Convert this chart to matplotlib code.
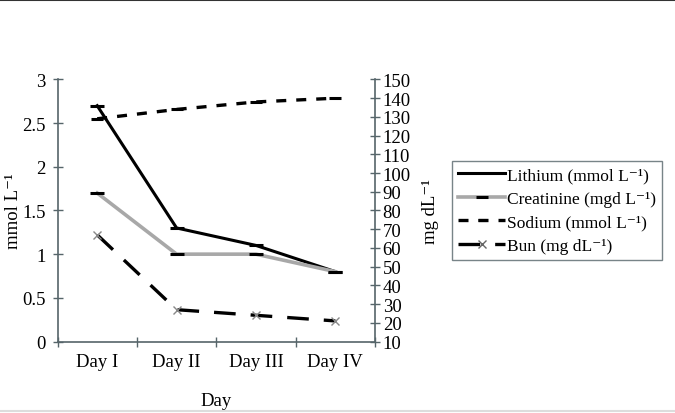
import matplotlib
matplotlib.use('Agg')
import matplotlib.pyplot as plt
from matplotlib.lines import Line2D

plt.rcParams['font.family'] = ['Liberation Serif', 'DejaVu Serif']

days = ['Day I', 'Day II', 'Day III', 'Day IV']
lithium = [2.7, 1.3, 1.1, 0.8]
creatinine = [1.7, 1.0, 1.0, 0.8]
sodium = [129, 134, 138, 140]
bun = [67, 27, 24, 21]

axcol = '#56656a'
sup = '\u207b\u00b9'
x = list(range(1, len(days) + 1))

fig = plt.figure(figsize=(6.75, 4.14), dpi=100)
ax = fig.add_axes([0.0852, 0.1727, 0.4704, 0.6329])
ax2 = ax.twinx()

ax.plot(x, lithium, color='black', lw=2.2, marker='_', ms=10, mew=2.2)
ax.plot(x, creatinine, color='#a8a8a8', lw=2.6, marker='_', ms=10, mew=2.2, mec='black')
ax2.plot(x, sodium, color='black', lw=2.4, ls=(0, (3, 3)), marker='_', ms=8, mew=2.2)
ax2.plot(x, bun, color='black', lw=2.4, ls=(0, (6.5, 4.5)), marker='x', ms=6, mew=1, mec='#888888')

ax.set_xlim(0.5, 4.5)
ax.set_ylim(0, 3)
ax2.set_ylim(10, 150)
ax.set_yticks([0, 0.5, 1, 1.5, 2, 2.5, 3])
ax.set_yticklabels(['0', '0.5', '1', '1.5', '2', '2.5', '3'])
ax2.set_yticks(range(10, 151, 10))

ax.set_xticks([0.5, 1.5, 2.5, 3.5, 4.5])
ax.set_xticklabels([])
ax.set_xticks(x, minor=True)
ax.set_xticklabels(days, minor=True)
ax.tick_params(axis='x', which='minor', length=0, pad=8, labelsize=13.5)

for a in (ax, ax2):
    a.spines['top'].set_visible(False)
    for s in ('left', 'right', 'bottom'):
        a.spines[s].set_color(axcol)
        a.spines[s].set_linewidth(1.2)
    a.tick_params(which='major', direction='inout', length=7, color=axcol, width=1)
    a.tick_params(axis='y', labelsize=13.5)
ax.spines['right'].set_visible(False)
ax2.spines['left'].set_visible(False)
ax2.spines['bottom'].set_visible(False)
ax.tick_params(axis='y', pad=5)
ax2.tick_params(axis='y', pad=2)

ax.set_ylabel('mmol L' + sup, fontsize=13.5)
ax.yaxis.set_label_coords(-0.112, 0.5)
ax2.set_ylabel('mg dL' + sup, fontsize=13.5)
ax2.yaxis.set_label_coords(1.148, 0.5)
ax.set_xlabel('Day', fontsize=13.5, labelpad=16)

handles = [
    Line2D([], [], color='black', lw=2.2),
    Line2D([], [], color='#a8a8a8', lw=2.6, marker='_', ms=9, mew=2.2, mec='black', markevery=[1]),
    Line2D([], [], color='black', lw=2.4, ls=(0, (3, 3)), marker='_', ms=6, mew=2.2, markevery=[1]),
    Line2D([], [], color='black', lw=2.4, ls=(0, (6.5, 4.5)), marker='x', ms=6, mew=1, mec='#666666', markevery=[1]),
]
labels = ['Lithium (mmol L' + sup + ')',
          'Creatinine (mgd L' + sup + ')',
          'Sodium (mmol L' + sup + ')',
          'Bun (mg dL' + sup + ')']
leg = fig.legend(handles, labels, loc='center', bbox_to_anchor=(0.664, 0.374, 0.323, 0.23),
                 fontsize=12.5, frameon=True, fancybox=False, handlelength=2.7,
                 handletextpad=0.1, labelspacing=0.42, borderaxespad=0, borderpad=0.35)
leg.get_frame().set_edgecolor(axcol)
leg.get_frame().set_linewidth(1)

fig.add_artist(Line2D([0, 1], [0.998, 0.998], color='#333333', lw=1.5, transform=fig.transFigure))
fig.add_artist(Line2D([0, 1], [0.005, 0.005], color='#dddddd', lw=1.5, transform=fig.transFigure))

fig.savefig('out.png', dpi=100)
